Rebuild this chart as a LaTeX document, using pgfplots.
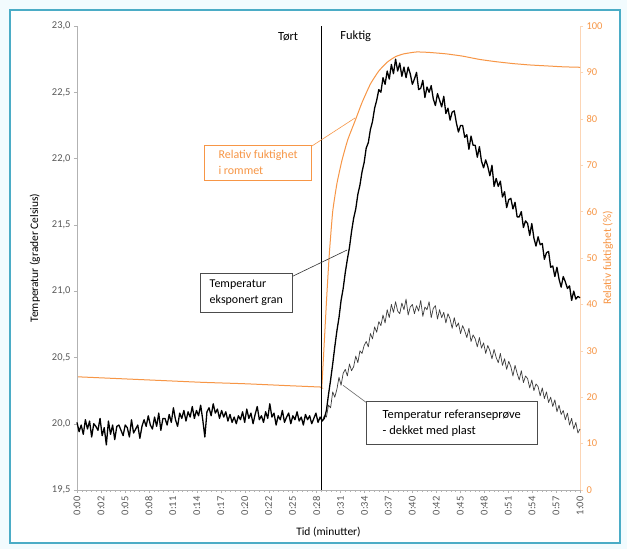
\documentclass[border=0pt]{standalone}
\usepackage{pgfplots}
\usepackage{pgfplotstable}
\pgfplotsset{compat=1.18}
\usepackage{fontspec}
\setmainfont{Carlito}

\definecolor{fukt}{RGB}{247,150,70}
\definecolor{frameteal}{RGB}{75,172,198}
\definecolor{ticktext}{RGB}{89,89,89}
\definecolor{refgrey}{RGB}{60,60,60}

% Temperatur, eksponert gran (grader Celsius)
\pgfplotstableread{
t v
0 20.01
0.25 19.94
0.5 19.99
0.75 19.92
1.0 20.03
1.25 19.96
1.5 20.02
1.75 19.90
2.0 20.00
2.25 19.98
2.5 19.95
2.75 20.04
3.0 19.91
3.25 19.97
3.5 19.84
3.75 20.02
4.0 19.92
4.25 19.99
4.5 19.88
4.75 19.98
5.0 19.99
5.25 19.95
5.5 19.91
5.75 19.99
6.0 19.97
6.25 19.90
6.5 20.03
6.75 19.93
7.0 19.96
7.25 19.99
7.5 19.89
7.75 19.98
8.0 20.03
8.25 19.98
8.5 20.06
8.75 19.99
9.0 19.96
9.25 20.05
9.5 19.98
9.75 20.08
10.0 19.95
10.25 20.04
10.5 20.04
10.75 19.99
11.0 20.07
11.25 20.01
11.5 20.12
11.75 20.03
12.0 19.98
12.25 20.08
12.5 20.04
12.75 20.10
13.0 20.02
13.25 20.09
13.5 20.05
13.75 20.13
14.0 20.04
14.25 20.10
14.5 20.06
14.75 20.14
15.0 20.03
15.25 19.90
15.5 20.09
15.75 20.12
16.0 20.06
16.25 20.15
16.5 20.08
16.75 20.11
17.0 20.04
17.25 20.10
17.5 20.05
17.75 20.09
18.0 20.02
18.25 20.07
18.5 20.01
18.75 20.05
19.0 20.00
19.25 20.06
19.5 20.03
19.75 20.09
20.0 20.01
20.25 20.11
20.5 20.04
20.75 20.08
21.0 20.00
21.25 20.07
21.5 20.13
21.75 20.03
22.0 20.06
22.25 20.01
22.5 20.09
22.75 20.04
23.0 20.15
23.25 20.05
23.5 20.08
23.75 19.99
24.0 20.06
24.25 20.03
24.5 20.10
24.75 20.01
25.0 20.05
25.25 20.08
25.5 20.00
25.75 20.06
26.0 20.03
26.25 20.09
26.5 20.02
26.75 20.05
27.0 19.99
27.25 20.07
27.5 20.03
27.75 20.06
28.0 20.00
28.25 20.04
28.5 20.08
28.75 20.01
29.0 20.05
29.25 20.02
29.5 20.04
29.75 20.10
30.0 20.22
30.25 20.33
30.5 20.45
30.75 20.58
31.0 20.70
31.25 20.80
31.5 20.93
31.75 21.02
32.0 21.14
32.25 21.24
32.5 21.33
32.75 21.45
33.0 21.55
33.25 21.62
33.5 21.73
33.75 21.80
34.0 21.90
34.25 21.97
34.5 22.08
34.75 22.12
35.0 22.22
35.25 22.28
35.5 22.38
35.75 22.44
36.0 22.52
36.25 22.50
36.5 22.61
36.75 22.56
37.0 22.66
37.25 22.60
37.5 22.71
37.75 22.64
38.0 22.75
38.25 22.66
38.5 22.72
38.75 22.62
39.0 22.69
39.25 22.61
39.5 22.69
39.75 22.64
40.0 22.56
40.25 22.60
40.5 22.65
40.75 22.52
41.0 22.53
41.25 22.59
41.5 22.46
41.75 22.54
42.0 22.50
42.25 22.55
42.5 22.45
42.75 22.40
43.0 22.49
43.25 22.44
43.5 22.39
43.75 22.47
44.0 22.34
44.25 22.38
44.5 22.29
44.75 22.35
45.0 22.36
45.25 22.27
45.5 22.20
45.75 22.25
46.0 22.25
46.25 22.16
46.5 22.18
46.75 22.07
47.0 22.17
47.25 22.10
47.5 22.10
47.75 22.01
48.0 22.09
48.25 21.98
48.5 21.93
48.75 21.99
49.0 21.94
49.25 21.87
49.5 21.95
49.75 21.79
50.0 21.85
50.25 21.79
50.5 21.83
50.75 21.71
51.0 21.75
51.25 21.63
51.5 21.69
51.75 21.70
52.0 21.62
52.25 21.67
52.5 21.56
52.75 21.56
53.0 21.60
53.25 21.48
53.5 21.53
53.75 21.51
54.0 21.42
54.25 21.51
54.5 21.40
54.75 21.34
55.0 21.41
55.25 21.35
55.5 21.36
55.75 21.24
56.0 21.29
56.25 21.30
56.5 21.18
56.75 21.19
57.0 21.11
57.25 21.18
57.5 21.09
57.75 21.03
58.0 21.11
58.25 21.07
58.5 21.02
58.75 21.04
59.0 20.93
59.25 21.00
59.5 20.94
59.75 20.96
60.0 20.95
}\eksponert

% Temperatur, referanseproeve dekket med plast
\pgfplotstableread{
t v
29.25 20.02
29.5 20.06
29.75 20.05
30.0 20.14
30.25 20.12
30.5 20.24
30.75 20.20
31.0 20.26
31.25 20.35
31.5 20.29
31.75 20.38
32.0 20.41
32.25 20.36
32.5 20.45
32.75 20.40
33.0 20.43
33.25 20.51
33.5 20.46
33.75 20.55
34.0 20.53
34.25 20.59
34.5 20.62
34.75 20.58
35.0 20.68
35.25 20.64
35.5 20.73
35.75 20.69
36.0 20.77
36.25 20.74
36.5 20.82
36.75 20.76
37.0 20.86
37.25 20.80
37.5 20.90
37.75 20.84
38.0 20.92
38.25 20.85
38.5 20.83
38.75 20.91
39.0 20.86
39.25 20.94
39.5 20.82
39.75 20.88
40.0 20.90
40.25 20.83
40.5 20.89
40.75 20.85
41.0 20.93
41.25 20.81
41.5 20.88
41.75 20.86
42.0 20.92
42.25 20.80
42.5 20.87
42.75 20.89
43.0 20.79
43.25 20.86
43.5 20.80
43.75 20.84
44.0 20.76
44.25 20.83
44.5 20.79
44.75 20.72
45.0 20.80
45.25 20.73
45.5 20.76
45.75 20.68
46.0 20.74
46.25 20.70
46.5 20.65
46.75 20.72
47.0 20.62
47.25 20.67
47.5 20.64
47.75 20.58
48.0 20.65
48.25 20.57
48.5 20.61
48.75 20.53
49.0 20.59
49.25 20.55
49.5 20.49
49.75 20.56
50.0 20.50
50.25 20.46
50.5 20.53
50.75 20.44
51.0 20.49
51.25 20.41
51.5 20.47
51.75 20.43
52.0 20.36
52.25 20.44
52.5 20.38
52.75 20.33
53.0 20.40
53.25 20.31
53.5 20.36
53.75 20.34
54.0 20.27
54.25 20.33
54.5 20.25
54.75 20.30
55.0 20.28
55.25 20.21
55.5 20.27
55.75 20.19
56.0 20.24
56.25 20.16
56.5 20.20
56.75 20.13
57.0 20.18
57.25 20.09
57.5 20.14
57.75 20.07
58.0 20.10
58.25 20.03
58.5 20.08
58.75 19.99
59.0 20.04
59.25 19.96
59.5 20.01
59.75 19.93
60.0 19.96
}\referanse

% Relativ fuktighet i rommet (%)
\pgfplotstableread{
t h
0 24.4
5 24.0
10 23.6
15 23.2
20 22.9
25 22.5
29.0 22.2
29.2 22.3
29.5 32
29.8 42
30.1 51
30.5 60
31.0 66
31.6 71
32.3 75.5
33.2 79.7
34.0 83.5
35.0 87.5
36.0 90.3
37.0 92.2
38.0 93.4
39.0 94.0
40.5 94.4
42.0 94.3
44.0 94.0
46.0 93.5
48.0 92.8
50.0 92.3
52.0 91.9
54.0 91.6
56.0 91.4
58.0 91.2
60.0 91.1
}\fuktighet

\pgfplotsset{
  felles/.style={
    at={(0,0)}, anchor=south west,
    scale only axis, width=503bp, height=464bp,
    xmin=0, xmax=60,
    tick align=outside,
    major tick length=3bp, minor tick length=2bp,
    /pgf/number format/assume math mode=true,
    every tick label/.append style={font=\fontsize{10.5}{12}\selectfont},
  },
}

\begin{document}
\begin{tikzpicture}[x=1bp,y=1bp]
% side og ramme
\fill[cyan!5] (-77,-59) rectangle (550,490);
\useasboundingbox (-77,-59) rectangle (550,490);
\fill[white] (-67,-53) rectangle (543,480);
\draw[frameteal, line width=2bp] (-67,-53) rectangle (543,480);

% høyre akse: relativ fuktighet
\begin{axis}[felles,
  ymin=0, ymax=100,
  axis x line=none, axis y line*=right,
  ytick={0,10,...,100},
  axis line style={draw=fukt!40},
  ytick style={draw=fukt!40},
  yticklabel style={text=fukt},
  every axis y label/.style={at={(axis description cs:1,0.5)}, xshift=28bp,
    rotate=90, anchor=center, text=fukt, font=\fontsize{11.5}{13}\selectfont},
  ylabel={Relativ fuktighet (\%)},
]
\addplot[fukt, line width=1bp, smooth, tension=0.3] table[x=t, y=h] {\fuktighet};
\end{axis}

% venstre akse: temperatur
\begin{axis}[felles,
  ymin=19.5, ymax=23,
  axis x line*=bottom, axis y line*=left,
  axis line style={draw=gray!60},
  tick style={draw=gray!60},
  ytick={19.5,20,...,23},
  yticklabel style={text=ticktext, /pgf/number format/.cd, fixed, fixed zerofill, precision=1, use comma},
  xtick={0,2.857143,5.714286,8.571429,11.428571,14.285714,17.142857,20,22.857143,25.714286,28.571429,31.428571,34.285714,37.142857,40,42.857143,45.714286,48.571429,51.428571,54.285714,57.142857,60},
  xticklabels={0:00,0:02,0:05,0:08,0:11,0:14,0:17,0:20,0:22,0:25,0:28,0:31,0:34,0:37,0:40,0:42,0:45,0:48,0:51,0:54,0:57,1:00},
  xticklabel style={rotate=90, anchor=east, text=ticktext},
  minor x tick num=4,
  every axis y label/.style={at={(axis description cs:0,0.5)}, xshift=-42bp,
    rotate=90, anchor=center, font=\fontsize{11.5}{13}\selectfont},
  every axis x label/.style={at={(axis description cs:0.5,0)}, yshift=-42bp,
    anchor=center, font=\fontsize{11.5}{13}\selectfont},
  ylabel={Temperatur (grader Celsius)},
  xlabel={Tid (minutter)},
  clip=false,
]
% skille mellom tørt og fuktig
\addplot[black, line width=0.8bp] coordinates {(29.2,19.5) (29.2,23)};

\addplot[refgrey, line width=0.7bp, line join=round] table[x=t, y=v] {\referanse};
\addplot[black, line width=1.3bp, line join=round] table[x=t, y=v] {\eksponert};

\node[anchor=east, font=\fontsize{12.5}{14}\selectfont] at (axis cs:26.8,22.92) {Tørt};
\node[anchor=west, font=\fontsize{12.5}{14}\selectfont] at (axis cs:31.0,22.92) {Fuktig};

% merknader
\draw[fukt, line width=0.6bp] (axis cs:28.03,22.095) -- (axis cs:33.16,22.306);
\node[draw=fukt, line width=0.6bp, text=fukt, align=left, inner sep=4bp,
  font=\fontsize{12}{16}\selectfont, minimum width=107bp, minimum height=35bp]
  at (axis cs:21.6,21.97) {Relativ fuktighet\\i rommet};

\draw[black!80, line width=0.6bp] (axis cs:25.65,21.11) -- (axis cs:32.21,21.31);
\node[draw=black!70, fill=white, line width=0.6bp, align=left, inner sep=4bp,
  font=\fontsize{12}{16}\selectfont, minimum width=92bp, minimum height=39bp]
  at (axis cs:20.2,20.99) {Temperatur\\eksponert gran};

\draw[black!60, line width=0.6bp] (axis cs:34.59,20.156) -- (axis cs:31.73,20.29);
\node[draw=black!70, fill=white, line width=0.6bp, align=left, inner sep=4bp,
  font=\fontsize{12.5}{16}\selectfont, minimum width=171bp, minimum height=43bp]
  at (axis cs:44.7,20.005) {Temperatur referanseprøve\\- dekket med plast};
\end{axis}
\end{tikzpicture}
\end{document}
